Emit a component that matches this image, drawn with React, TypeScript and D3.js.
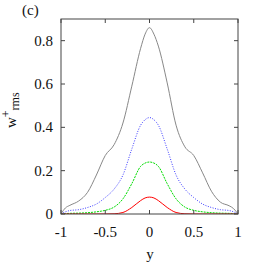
import React from "react";
import * as d3 from "d3";

const yGrid = [-1, -0.95, -0.9, -0.8, -0.7, -0.6, -0.5, -0.4, -0.3, -0.2, -0.1, -0.05, 0, 0.05, 0.1, 0.2, 0.3, 0.4, 0.5, 0.6, 0.7, 0.8, 0.9, 0.95, 1];
const grayVals = [0, 0.028, 0.04, 0.06, 0.1, 0.18, 0.27, 0.32, 0.42, 0.59, 0.765, 0.83, 0.86, 0.83, 0.775, 0.605, 0.41, 0.31, 0.27, 0.19, 0.105, 0.055, 0.038, 0.025, 0];
const blueVals = [0, 0.01, 0.016, 0.02, 0.03, 0.046, 0.076, 0.115, 0.18, 0.3, 0.41, 0.435, 0.445, 0.435, 0.41, 0.3, 0.18, 0.115, 0.076, 0.046, 0.03, 0.02, 0.016, 0.01, 0];
const greenVals = [0, 0.002, 0.003, 0.004, 0.006, 0.01, 0.017, 0.032, 0.07, 0.14, 0.22, 0.235, 0.24, 0.235, 0.22, 0.14, 0.07, 0.032, 0.017, 0.01, 0.006, 0.004, 0.003, 0.002, 0];
const redVals = [0, 0, 0, 0, 0, 0, 0, 0.001, 0.007, 0.03, 0.062, 0.074, 0.078, 0.074, 0.062, 0.03, 0.007, 0.001, 0, 0, 0, 0, 0, 0, 0];
const xTicks = [-1, -0.5, 0, 0.5, 1];
const xTickLabels = ["-1", "-0.5", "0", "0.5", "1"];
const yTicks = [0, 0.2, 0.4, 0.6, 0.8];
const yTickLabels = ["0", "0.2", "0.4", "0.6", "0.8"];

const series = [
  { vals: grayVals, color: "#888888", dash: "" },
  { vals: blueVals, color: "#3a3aff", dash: "1,1.5" },
  { vals: greenVals, color: "#00dd00", dash: "2,1" },
  { vals: redVals, color: "#ff0000", dash: "" },
];

export default function App() {
  const L = 61, R = 238, T = 19, B = 214;
  const x = d3.scaleLinear().domain([-1, 1]).range([L, R]);
  const y = d3.scaleLinear().domain([0, 0.9]).range([B, T]);
  const line = (vals: number[]) =>
    d3.line<number>().x((_, i) => x(yGrid[i])).y((d) => y(d)).curve(d3.curveMonotoneX)(vals) || "";
  const font = "'Liberation Serif', 'Times New Roman', serif";
  const axisColor = "#444";
  return (
    <div style={{ position: "absolute", left: 0, top: 0 }}>
      <svg width={266} height={266} style={{ display: "block", background: "#fff" }} fontFamily={font}>
        <defs>
          <clipPath id="clip">
            <rect x={L} y={T} width={R - L} height={B - T} />
          </clipPath>
        </defs>
        <g clipPath="url(#clip)">
          {series.map((s, i) => (
            <path key={i} d={line(s.vals)} fill="none" stroke={s.color} strokeWidth={1} strokeDasharray={s.dash || undefined} />
          ))}
        </g>
        <rect x={L} y={T} width={R - L} height={B - T} fill="none" stroke={axisColor} strokeWidth={1} />
        {xTicks.map((t, i) => (
          <g key={"x" + i}>
            <line x1={x(t)} x2={x(t)} y1={B} y2={B - 4} stroke={axisColor} />
            <line x1={x(t)} x2={x(t)} y1={T} y2={T + 4} stroke={axisColor} />
            <text x={x(t)} y={237} fontSize={15} textAnchor="middle" fill="#111">{xTickLabels[i]}</text>
          </g>
        ))}
        {yTicks.map((t, i) => (
          <g key={"y" + i}>
            <line x1={L} x2={L + 4} y1={y(t)} y2={y(t)} stroke={axisColor} />
            <line x1={R} x2={R - 4} y1={y(t)} y2={y(t)} stroke={axisColor} />
            <text x={53} y={y(t) + 5} fontSize={15} textAnchor="end" fill="#111">{yTickLabels[i]}</text>
          </g>
        ))}
        <text x={150} y={259} fontSize={15} textAnchor="middle" fill="#111">y</text>
        <text transform="translate(16,128) rotate(-90)" fontSize={15} fill="#111">
          w<tspan fontSize={12} dy={-6}>+</tspan><tspan fontSize={12} dy={9}>rms</tspan>
        </text>
        <text x={22} y={15} fontSize={15} fill="#111">(c)</text>
      </svg>
    </div>
  );
}
